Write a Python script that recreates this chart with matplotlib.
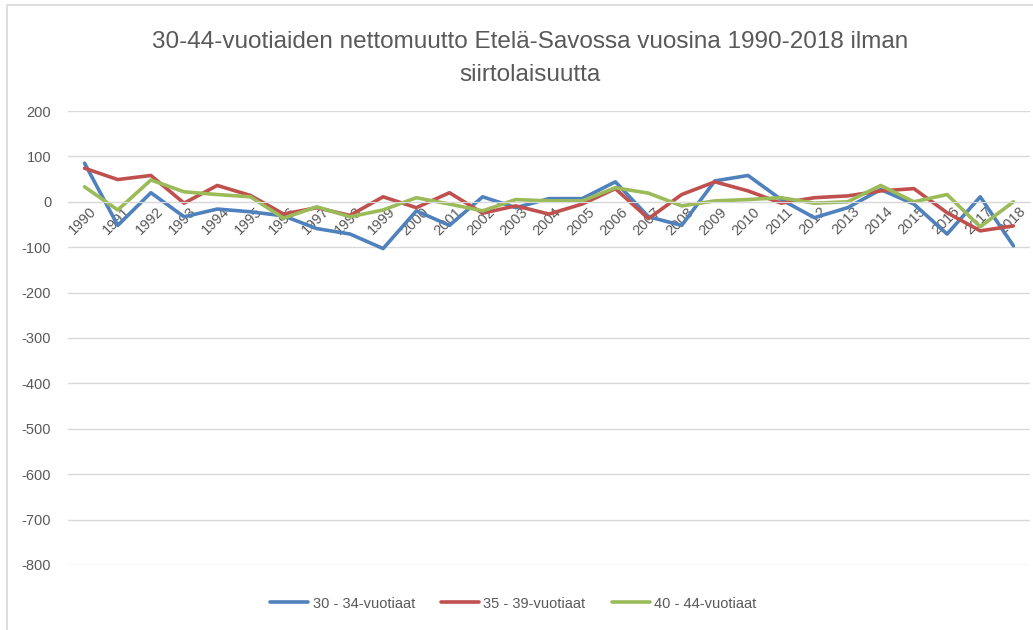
import matplotlib.pyplot as plt
import matplotlib.transforms as mtransforms
from matplotlib.patches import Rectangle

YEARS = [str(y) for y in range(1990, 2019)]

# nettomuutto per ikäryhmä
AGE_30_34 = [85, -52, 20, -33, -16, -22, -31, -59, -71, -103,
             -20, -52, 11, -13, 7, 7, 44, -33, -52, 46,
             58, 5, -35, -13, 27, -5, -71, 11, -97]
AGE_35_39 = [74, 49, 58, -3, 36, 14, -27, -13, -30, 11,
             -13, 20, -25, -9, -27, -5, 29, -37, 16, 44,
             24, -3, 9, 13, 24, 29, -24, -64, -53]
AGE_40_44 = [33, -18, 48, 22, 16, 11, -36, -11, -33, -18,
             9, -5, -20, 5, 2, 2, 31, 19, -9, 2,
             5, 9, -3, 0, 36, 0, 16, -55, 0]

SERIES = ["30 - 34-vuotiaat", "35 - 39-vuotiaat", "40 - 44-vuotiaat"]
COLORS = ["#4F81BD", "#C0504D", "#9BBB59"]
Y_TICKS = list(range(-800, 201, 100))

plt.rcParams['font.family'] = ["Liberation Sans", "DejaVu Sans"]

fig = plt.figure(figsize=(10.33, 6.3), dpi=100)
fig.patches.append(Rectangle((0.007, -0.01), 1.1, 1.002, transform=fig.transFigure,
                             fill=False, edgecolor="#D9D9D9", linewidth=1.2))
ax = fig.add_axes([0.0658, 0.1032, 0.9313, 0.7206])

x = list(range(len(YEARS)))
for vals, name, col in zip([AGE_30_34, AGE_35_39, AGE_40_44], SERIES, COLORS):
    ax.plot(x, vals, color=col, linewidth=2.6, label=name, solid_capstyle='round')

ax.set_xlim(-0.5, len(YEARS) - 0.5)
ax.set_ylim(-800, 200)
ax.set_yticks(Y_TICKS)
ax.set_yticklabels([str(v) for v in Y_TICKS])
ax.grid(axis='y', color="#D9D9D9", linewidth=1)
ax.set_axisbelow(True)

for s in ['left', 'right', 'top']:
    ax.spines[s].set_visible(False)
ax.spines['bottom'].set_position(('data', 0))
ax.spines['bottom'].set_color("#D9D9D9")
ax.set_xticks(x)
ax.set_xticklabels(YEARS, rotation=45, ha='right', va='top', rotation_mode='anchor')
ax.tick_params(axis='x', length=0, pad=2, labelsize=10.5, labelcolor="#595959")
ax.tick_params(axis='y', length=0, pad=12, labelsize=10.5, labelcolor="#595959")

# nudge year labels to the right like the original
shift = mtransforms.ScaledTranslation(5 / 100, 0, fig.dpi_scale_trans)
for lab in ax.get_xticklabels():
    lab.set_transform(lab.get_transform() + shift)

fig.text(0.513, 0.907, "30-44-vuotiaiden nettomuutto Etelä-Savossa vuosina 1990-2018 ilman\nsiirtolaisuutta",
         ha='center', va='center', fontsize=17.5, color="#595959", linespacing=1.6)

fig.legend(loc='center', bbox_to_anchor=(0.497, 0.042), ncol=3, frameon=False,
           fontsize=10.5, handlelength=2.6, columnspacing=1.8, handletextpad=0.3,
           labelcolor="#595959")

fig.savefig("out.png", dpi=100)
